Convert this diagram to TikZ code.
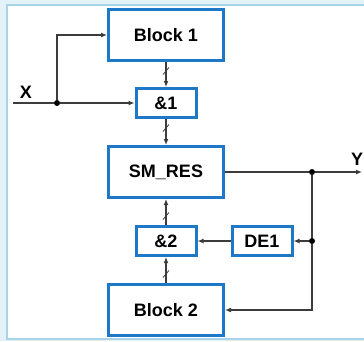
\documentclass[tikz,border=0pt]{standalone}
\usepackage{fontspec}
\setmainfont{Liberation Sans}
\usetikzlibrary{arrows.meta,calc}
\definecolor{BoxBlue}{HTML}{1E78C8}
\definecolor{Wire}{HTML}{3C3C3C}
\definecolor{Frame}{HTML}{A9D3E6}
\definecolor{Sky}{HTML}{E3F2F9}

\tikzset{
  blk/.style={draw=BoxBlue,line width=3pt,fill=white,minimum width=115pt,minimum height=51pt,font=\bfseries\fontsize{18}{20}\selectfont},
  gate/.style={blk,minimum width=60pt,minimum height=29pt},
  wire/.style={draw=Wire,line width=1.4pt},
  link/.style={wire,-{Latex[length=6pt,width=5pt]}},
  dot/.style={circle,fill=black,inner sep=0pt,minimum size=6pt},
  lbl/.style={font=\bfseries\fontsize{18}{20}\selectfont},
  tick/.style={draw=Wire,line width=0.8pt}
}

\begin{document}
\begin{tikzpicture}[x=1pt,y=-1pt]
  \useasboundingbox (0,0) rectangle (364,341);
  \fill[Sky] (0,0) rectangle (364,341);
  \draw[Frame,fill=white,line width=1.5pt] (7,5) rectangle (370,339);

  % blocks
  \node[blk] (blk1) at (166,35) {Block 1};
  \node[gate] (and1) at (166,103) {\&1};
  \node[blk] (smres) at (166,172) {SM\_RES};
  \node[gate] (and2) at (166,241) {\&2};
  \node[gate] (de1) at (262,241) {DE1};
  \node[blk] (blk2) at (166,310) {Block 2};

  % junctions and free ends
  \node[dot] (jx) at (57,103) {};
  \node[dot] (jy) at (312,172) {};
  \node[dot] (jd) at (312,241) {};
  \coordinate (xin) at (13,103);
  \coordinate (yout) at (362,172);
  \node[lbl] (xl) at (26,92) {X};
  \node[lbl] (yl) at (357,159) {Y};

  % connections
  \draw[wire] (xin) -- (jx);
  \draw[link] (jx) -- (and1);
  \draw[link] (jx) |- (blk1);
  \draw[link] (blk1) -- (and1);
  \draw[link] (and1) -- (smres);
  \draw[link] (and2) -- (smres);
  \draw[link] (blk2) -- (and2);
  \draw[link] (de1) -- (and2);
  \draw[wire] (smres) -- (jy);
  \draw[link] (jy) -- (yout);
  \draw[wire] (jy) -- (jd);
  \draw[link] (jd) -- (de1);
  \draw[link] (jd) |- (blk2);

  % bus marks
  \foreach \p/\d in {blk1.south/9,and1.south/9,and2.north/-9,blk2.north/-9}
    \draw[tick] ($(\p)+(-3,\d+3.5)$) -- ++(6,-7);
\end{tikzpicture}
\end{document}
